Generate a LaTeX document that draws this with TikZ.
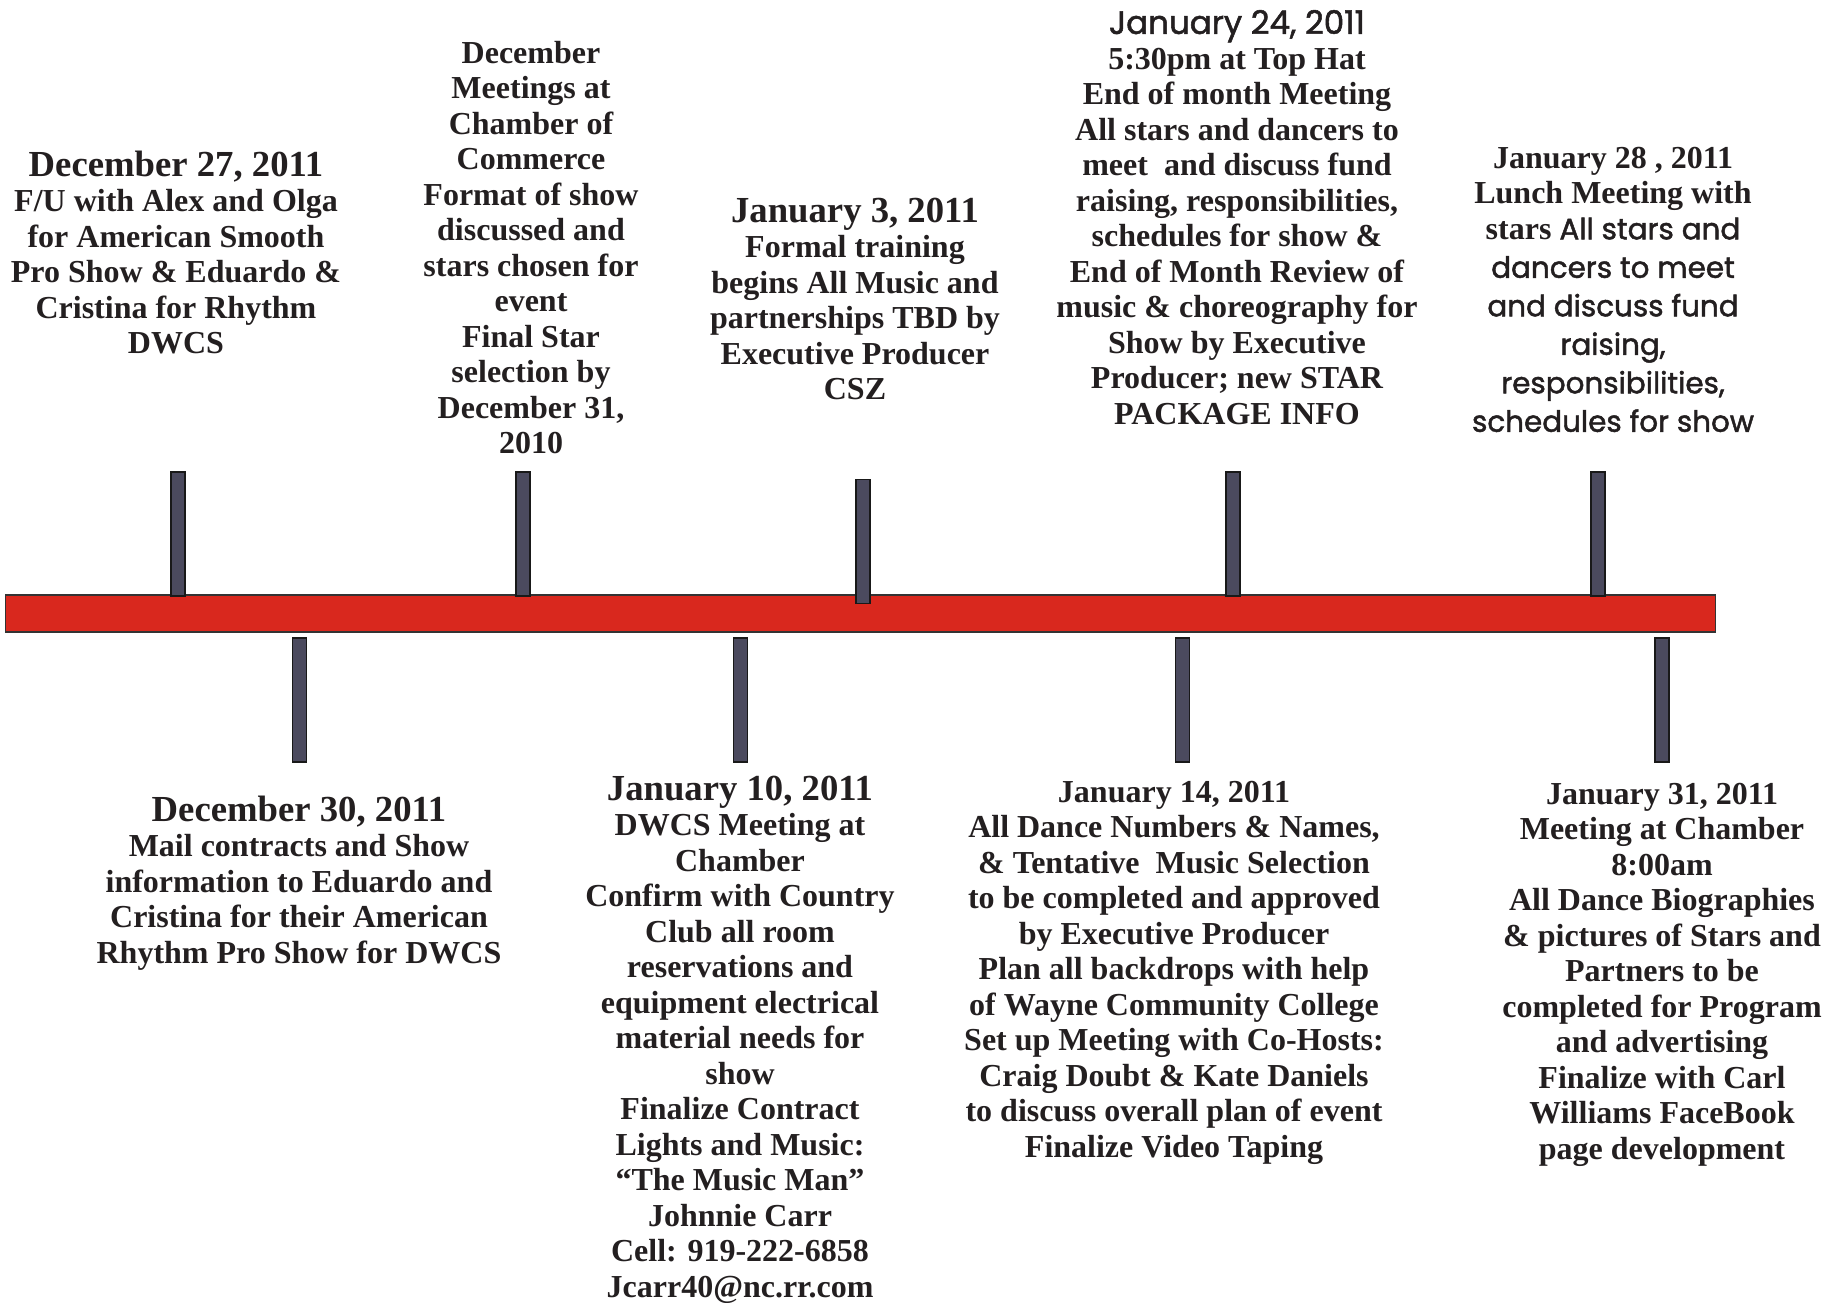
\documentclass[tikz,border=0pt]{standalone}
\usepackage{fontspec}
\setmainfont{Liberation Serif}
\newfontfamily\gothic{Poppins}[BoldFont={Poppins},BoldFeatures={FakeBold=1.6}]
\definecolor{ink}{HTML}{231F20}
\definecolor{barred}{HTML}{D9281E}
\definecolor{tickfill}{HTML}{4B4A5E}
\newcommand{\ttl}[1]{{\fontsize{36.7}{35.5}\selectfont #1}}
\newcommand{\gth}[1]{{\gothic\bfseries\fontsize{29.4}{35.5}\selectfont #1}}
\newcommand{\gthbig}[1]{{\gothic\bfseries\fontsize{32.5}{35.5}\selectfont #1}}
\begin{document}
\begin{tikzpicture}[x=1pt,y=-1pt,
  every node/.style={inner sep=0pt,outer sep=0pt},
  blk/.style={anchor=north,align=center,text=ink,font=\bfseries\fontsize{32}{35.5}\selectfont},
  tickbar/.style={fill=tickfill,draw=black!90,line width=1.5pt,minimum width=14,minimum height=124},
  timebar/.style={fill=barred,draw=black!80,line width=1.5pt,minimum width=1710,minimum height=37}]
\useasboundingbox (0,0) rectangle (1834,1302);
\node[timebar] (bar) at (860.3,613.4) {};
% top ticks
\node[tickbar] (t1) at (178,534.2) {};
\node[tickbar] (t2) at (523,534.2) {};
\node[tickbar] (t3) at (863,541.5) {};
\node[tickbar] (t4) at (1233,534.2) {};
\node[tickbar] (t5) at (1598,534.2) {};
% bottom ticks
\node[tickbar] (b1) at (299.4,700.2) {};
\node[tickbar] (b2) at (740.4,700.2) {};
\node[tickbar] (b3) at (1182.5,700.2) {};
\node[tickbar] (b4) at (1662,700.2) {};
% texts
\node[blk] (A) at (176,151) {\ttl{December 27, 2011}\\F/U with Alex and Olga\\for American Smooth\\Pro Show \& Eduardo \&\\Cristina for Rhythm\\DWCS};
\node[blk] (B) at (531,41) {December\\Meetings at\\Chamber of\\Commerce\\Format of show\\discussed and\\stars chosen for\\event\\Final Star\\selection by\\December 31,\\2010};
\node[blk] (C) at (855,198) {\ttl{January 3, 2011}\\Formal training\\begins All Music and\\partnerships TBD by\\Executive Producer\\CSZ};
\node[blk] (D) at (1237,10) {\gthbig{January 24, 2011}\\5:30pm at Top Hat\\End of month Meeting\\All stars and dancers to\\meet\ \ and discuss fund\\raising, responsibilities,\\schedules for show \&\\End of Month Review of\\music \& choreography for\\Show by Executive\\Producer; new STAR\\PACKAGE INFO};
\node[blk] (E) at (1613,147) {January 28 , 2011\\Lunch Meeting with\\stars \gth{All stars and}\\[3pt]\gth{dancers to meet}\\[3pt]\gth{and discuss fund}\\[3pt]\gth{raising,}\\[3pt]\gth{responsibilities,}\\[3pt]\gth{schedules for show}};
\node[blk] (F) at (299,796) {\ttl{December 30, 2011}\\Mail contracts and Show\\information to Eduardo and\\Cristina for their American\\Rhythm Pro Show for DWCS};
\node[blk] (G) at (740,776) {\ttl{January 10, 2011}\\DWCS Meeting at\\Chamber\\Confirm with Country\\Club all room\\reservations and\\equipment electrical\\material needs for\\show\\Finalize Contract\\Lights and Music:\\``The Music Man''\\Johnnie Carr\\Cell: 919-222-6858\\Jcarr40@nc.rr.com};
\node[blk] (H) at (1174,781) {January 14, 2011\\All Dance Numbers \& Names,\\\& Tentative\ \ Music Selection\\to be completed and approved\\by Executive Producer\\Plan all backdrops with help\\of Wayne Community College\\Set up Meeting with Co-Hosts:\\Craig Doubt \& Kate Daniels\\to discuss overall plan of event\\Finalize Video Taping};
\node[blk] (I) at (1662,783) {January 31, 2011\\Meeting at Chamber\\8:00am\\All Dance Biographies\\\& pictures of Stars and\\Partners to be\\completed for Program\\and advertising\\Finalize with Carl\\Williams FaceBook\\page development};
\end{tikzpicture}
\end{document}
